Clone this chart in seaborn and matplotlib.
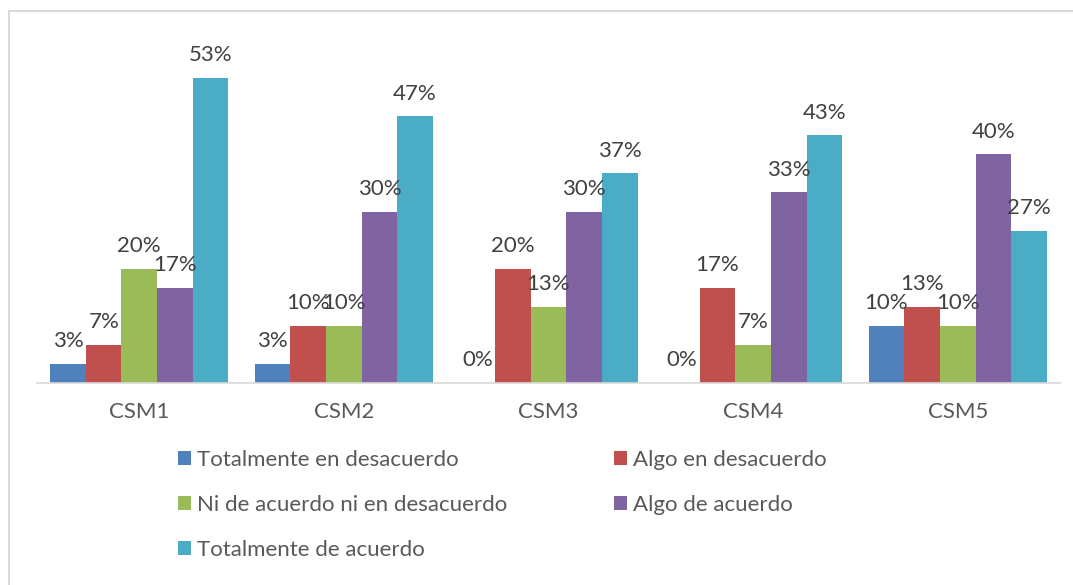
import pandas as pd
import matplotlib.pyplot as plt
import seaborn as sns
from matplotlib.lines import Line2D
from matplotlib.patches import Patch

# Datos (porcentajes sobre 30 respuestas)
categorias = ["CSM1", "CSM2", "CSM3", "CSM4", "CSM5"]
series = [
    "Totalmente en desacuerdo",
    "Algo en desacuerdo",
    "Ni de acuerdo ni en desacuerdo",
    "Algo de acuerdo",
    "Totalmente de acuerdo",
]
totalmente_desacuerdo = [3.33, 3.33, 0.0, 0.0, 10.0]
algo_desacuerdo = [6.67, 10.0, 20.0, 16.67, 13.33]
ni_ni = [20.0, 10.0, 13.33, 6.67, 10.0]
algo_acuerdo = [16.67, 30.0, 30.0, 33.33, 40.0]
totalmente_acuerdo = [53.33, 46.67, 36.67, 43.33, 26.67]

colores = ["#4F81BD", "#C0504D", "#9BBB59", "#8064A2", "#4BACC6"]

valores = [totalmente_desacuerdo, algo_desacuerdo, ni_ni, algo_acuerdo, totalmente_acuerdo]
filas = []
for s, vals in zip(series, valores):
    for c, v in zip(categorias, vals):
        filas.append({"cat": c, "serie": s, "valor": v})
df = pd.DataFrame(filas)

sns.set_style("white")
plt.rcParams["font.family"] = ["Lato", "DejaVu Sans"]

fig = plt.figure(figsize=(10.73, 5.85), dpi=100)
ax = fig.add_axes([37 / 1073, 1 - 383 / 585, 1023 / 1073, 343 / 585])

sns.barplot(data=df, x="cat", y="valor", hue="serie", hue_order=series,
            palette=colores, width=0.87, saturation=1, ax=ax, legend=False,
            edgecolor="none", linewidth=0)

for cont in ax.containers:
    for bar in cont:
        h = bar.get_height()
        ax.annotate(f"{h:.0f}%", (bar.get_x() + bar.get_width() / 2, h),
                    xytext=(0, 12), textcoords="offset points",
                    ha="center", va="baseline", fontsize=16, color="#404040")

ax.set_xlim(-0.5, 4.5)
ax.set_ylim(0, 60)
ax.set_xlabel("")
ax.set_ylabel("")
ax.set_yticks([])
for lado in ["top", "right", "left"]:
    ax.spines[lado].set_visible(False)
ax.spines["bottom"].set_color("#D9D9D9")
ax.spines["bottom"].set_linewidth(1.2)

ax.set_xticks(range(5))
ax.set_xticklabels(categorias, fontsize=16, color="#595959")
ax.tick_params(axis="x", which="major", length=0, pad=14)
ax.set_xticks([i - 0.5 for i in range(6)], minor=True)
ax.tick_params(axis="x", which="minor", length=7, width=1.2, color="#D9D9D9")

# leyenda en dos columnas, orden por filas
handles = [Patch(facecolor=c, edgecolor="none") for c in colores]
orden = [0, 2, 4, 1, 3]
leg = fig.legend([handles[i] for i in orden], [series[i] for i in orden],
                 ncol=2, loc="upper left", bbox_to_anchor=(178 / 1073, 1 - 450 / 585),
                 frameon=False, fontsize=16, handlelength=0.6, handleheight=0.6,
                 handletextpad=0.25, labelspacing=1.12, columnspacing=4.8,
                 borderaxespad=0, borderpad=0)
for t in leg.get_texts():
    t.set_color("#595959")

# borde del gráfico
fig.add_artist(Line2D([8.5 / 1073, 8.5 / 1073], [0, 1 - 10.5 / 585],
                      transform=fig.transFigure, color="#D9D9D9", lw=1.5))
fig.add_artist(Line2D([8.5 / 1073, 1], [1 - 10.5 / 585, 1 - 10.5 / 585],
                      transform=fig.transFigure, color="#D9D9D9", lw=1.5))

fig.savefig("out.png", dpi=100)
